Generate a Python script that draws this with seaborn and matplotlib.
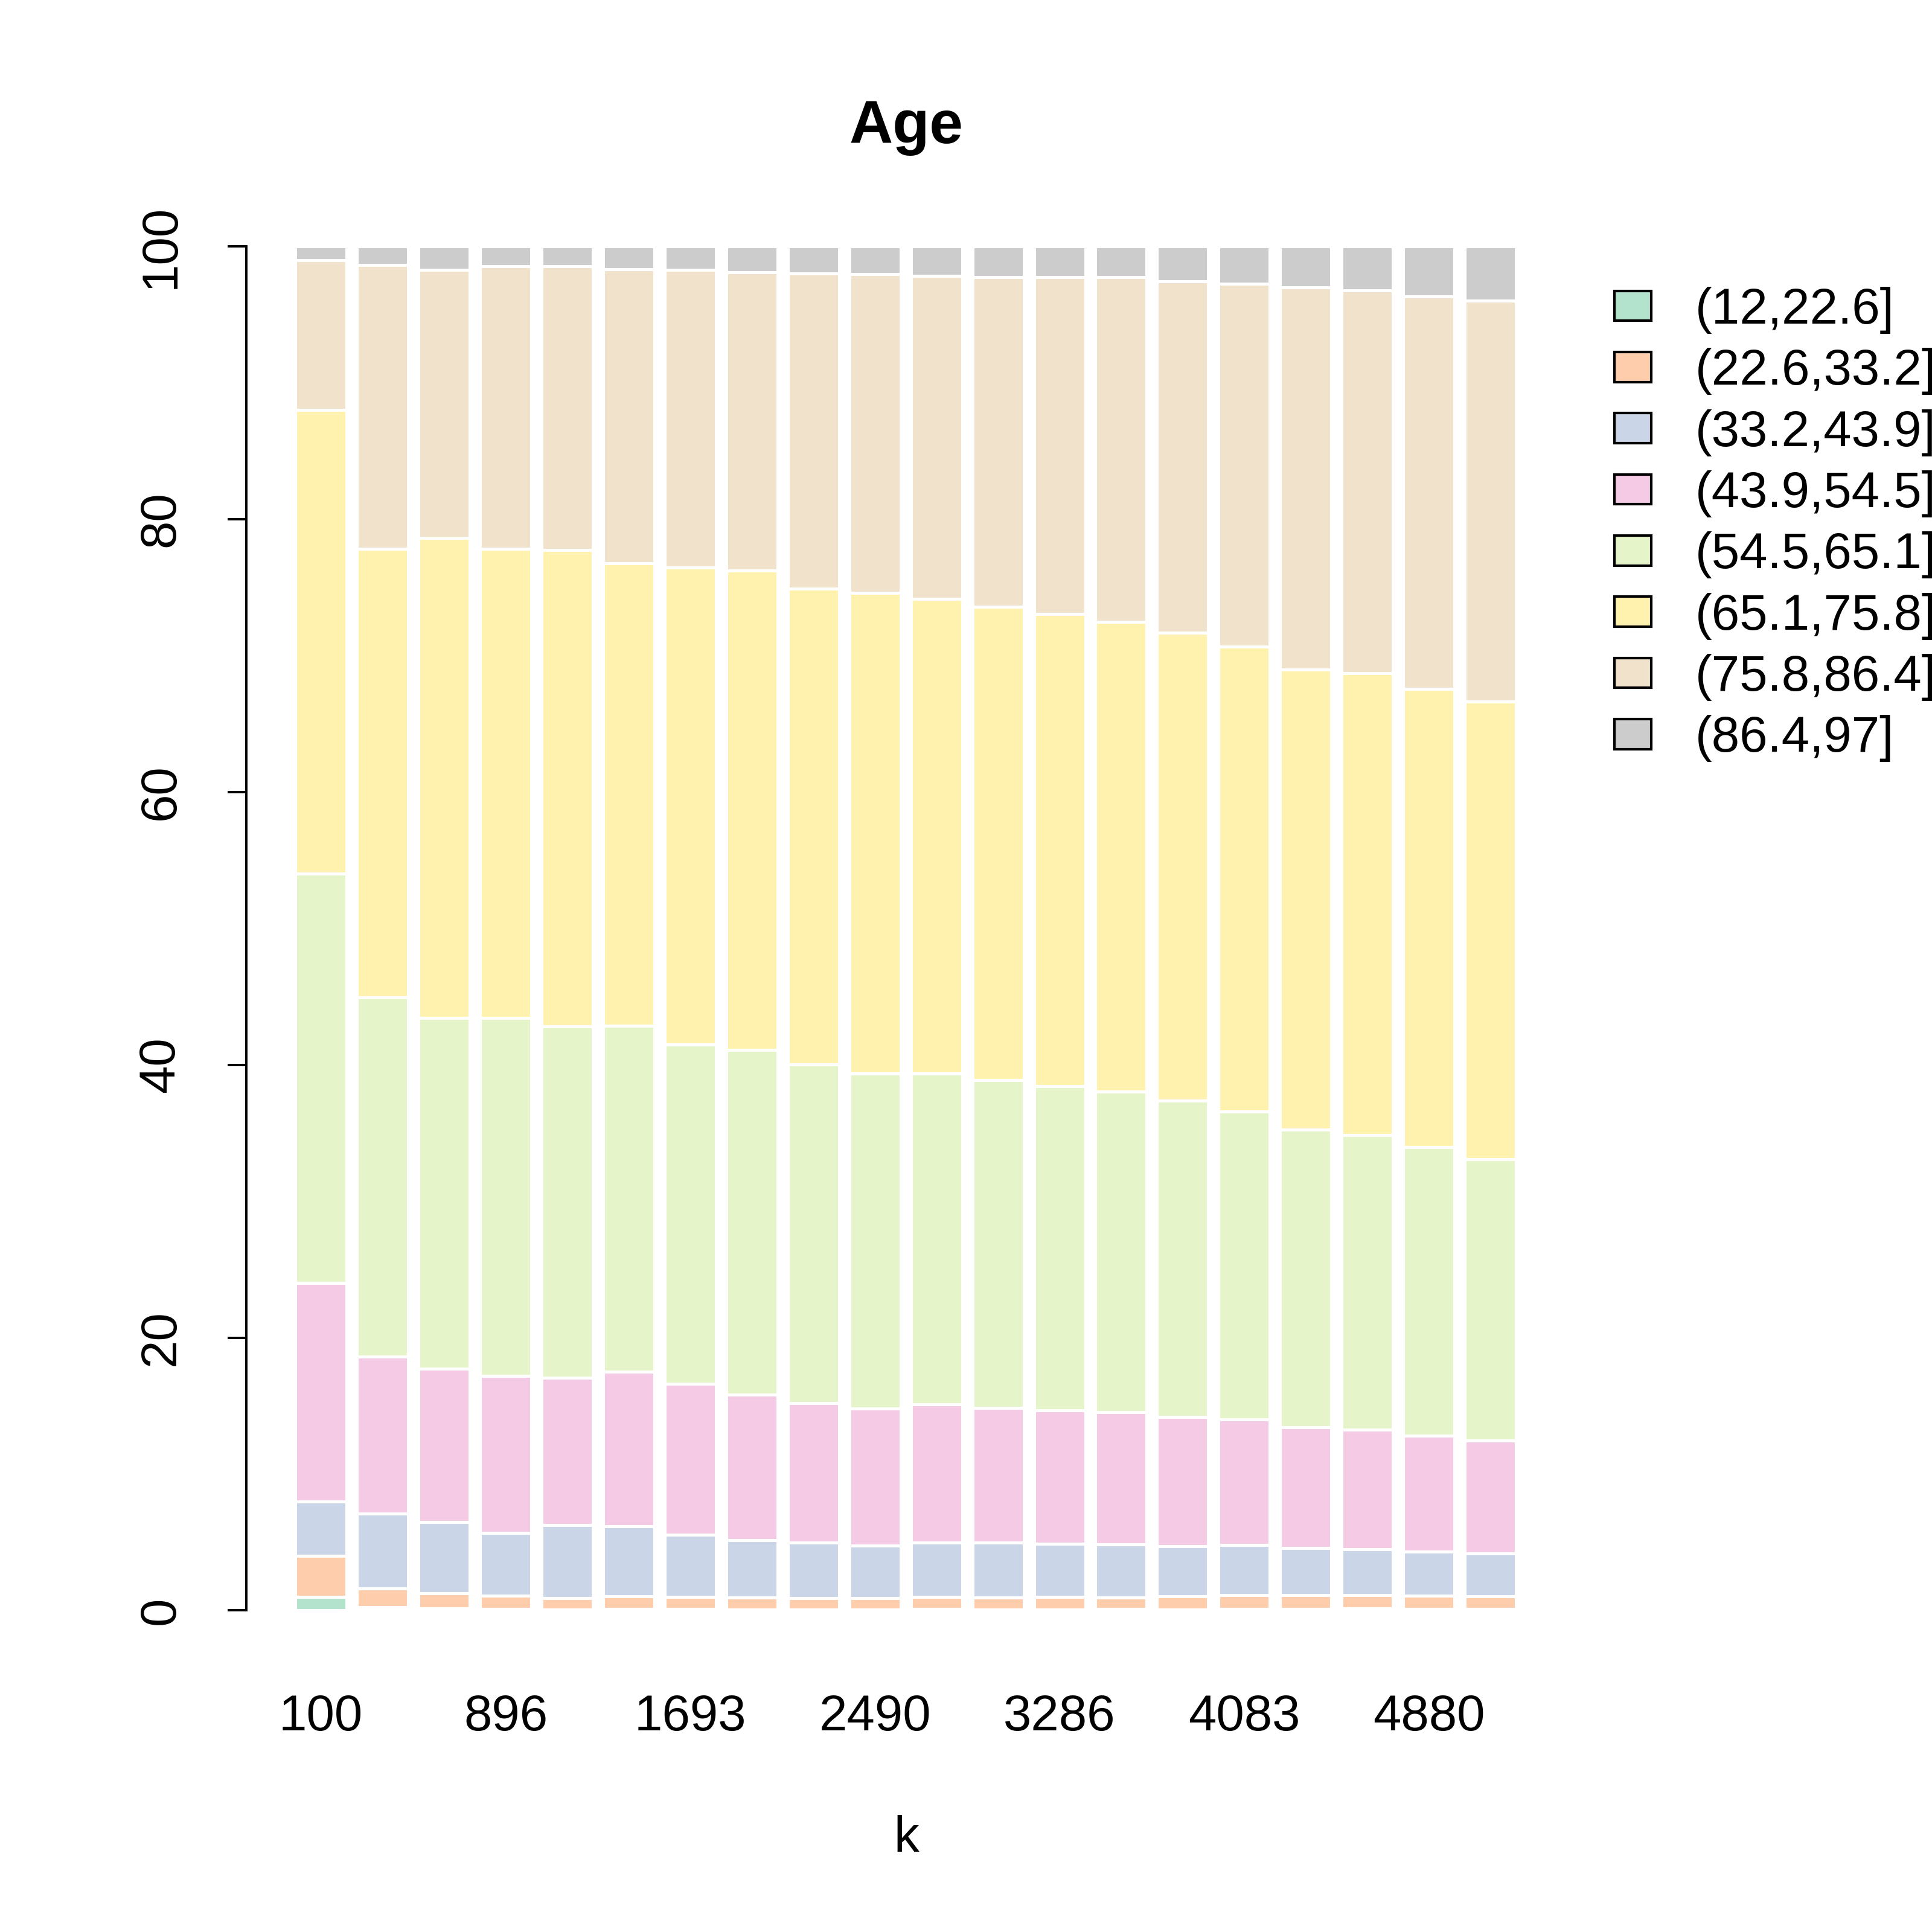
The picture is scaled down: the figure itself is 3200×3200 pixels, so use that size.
import matplotlib
matplotlib.use("Agg")
import matplotlib.pyplot as plt
import seaborn as sns
import pandas as pd
import numpy as np
from matplotlib.patches import Patch

# ---- data ----
k_values = ["100", "365", "631", "896", "1162", "1427", "1693", "1959", "2224", "2490",
            "2755", "3021", "3286", "3552", "3817", "4083", "4349", "4614", "4880", "5145"]
k_tick_labels = ["100", "896", "1693", "2490", "3286", "4083", "4880"]

age_bins = ["(12,22.6]", "(22.6,33.2]", "(33.2,43.9]", "(43.9,54.5]",
            "(54.5,65.1]", "(65.1,75.8]", "(75.8,86.4]", "(86.4,97]"]
bin_colors = ["#B3E2CD", "#FDCDAC", "#CBD5E8", "#F4CAE4",
              "#E6F5C9", "#FFF2AE", "#F1E2CC", "#CCCCCC"]

pct_12_22 = [1.00, 0.25, 0.16, 0.12, 0.07, 0.12, 0.12, 0.07, 0.07, 0.07,
             0.12, 0.07, 0.07, 0.12, 0.07, 0.12, 0.12, 0.16, 0.12, 0.12]
pct_22_33 = [3.00, 1.37, 1.11, 0.97, 0.84, 0.93, 0.88, 0.89, 0.84, 0.84,
             0.88, 0.89, 0.93, 0.84, 0.98, 1.02, 1.02, 0.98, 0.97, 0.93]
pct_33_44 = [4.00, 5.49, 5.22, 4.60, 5.36, 5.13, 4.56, 4.20, 4.08, 3.85,
             3.99, 4.03, 3.90, 3.89, 3.67, 3.67, 3.45, 3.36, 3.23, 3.14]
pct_44_55 = [16.00, 11.50, 11.24, 11.51, 10.80, 11.33, 11.06, 10.67, 10.22, 10.05,
             10.13, 9.86, 9.77, 9.69, 9.47, 9.20, 8.85, 8.76, 8.50, 8.27]
pct_55_65 = [30.00, 26.34, 25.72, 26.25, 25.76, 25.36, 24.88, 25.27, 24.83, 24.57,
             24.26, 24.04, 23.78, 23.51, 23.19, 22.58, 21.82, 21.60, 21.16, 20.63]
pct_65_76 = [34.00, 32.86, 35.16, 34.36, 34.89, 33.92, 34.94, 35.12, 34.89, 35.20,
             34.76, 34.67, 34.58, 34.41, 34.28, 34.05, 33.74, 33.84, 33.56, 33.52]
pct_76_86 = [11.00, 20.84, 19.69, 20.75, 20.84, 21.55, 21.86, 21.90, 23.10, 23.41,
             23.71, 24.20, 24.73, 25.30, 25.77, 26.62, 27.99, 28.07, 28.79, 29.41]
pct_86_97 = [1.00, 1.35, 1.70, 1.44, 1.44, 1.66, 1.70, 1.88, 1.97, 2.01,
             2.15, 2.24, 2.24, 2.24, 2.57, 2.74, 3.01, 3.23, 3.67, 3.98]

series = [pct_12_22, pct_22_33, pct_33_44, pct_44_55,
          pct_55_65, pct_65_76, pct_76_86, pct_86_97]

# ---- style ----
sns.set_style("white")
plt.rcParams["font.family"] = ["Liberation Sans", "DejaVu Sans"]
plt.rcParams["text.color"] = "black"
plt.rcParams["axes.labelcolor"] = "black"
plt.rcParams["xtick.color"] = "black"
plt.rcParams["ytick.color"] = "black"

FS = 30

fig = plt.figure(figsize=(16, 16), dpi=200)
ax = fig.add_axes([0.1276, 0.1382, 0.6824, 0.7625])

bottom = np.zeros(len(k_values))
for name, vals, col in zip(age_bins, series, bin_colors):
    df = pd.DataFrame({"k": k_values, "pct": vals})
    sns.barplot(data=df, x="k", y="pct", order=k_values, color=col,
                saturation=1, bottom=bottom.copy(), width=1 / 1.2,
                edgecolor="white", linewidth=1.8, errorbar=None, ax=ax)
    bottom += np.array(vals)

n = len(k_values)
span_lo, span_hi = -0.5 / 1.2, (n - 1) + 0.5 / 1.2
pad_x = 0.04 * (span_hi - span_lo)
ax.set_xlim(span_lo - pad_x, span_hi + pad_x)
ax.set_ylim(-4, 104)

for s in ["top", "right", "bottom"]:
    ax.spines[s].set_visible(False)
ax.spines["left"].set_bounds(0, 100)
ax.spines["left"].set_linewidth(1.4)
ax.spines["left"].set_color("black")

ax.set_yticks([0, 20, 40, 60, 80, 100])
ax.set_yticklabels(["0", "20", "40", "60", "80", "100"], rotation=90, va="center")
ax.tick_params(axis="y", length=11, width=1.4, pad=26, labelsize=FS, color="black",
               labelcolor="black", left=True)

ax.set_xticks(list(range(0, n, 3)))
ax.set_xticklabels(k_tick_labels)
ax.tick_params(axis="x", length=0, pad=17, labelsize=FS, labelcolor="black")
ax.set_xlabel("")
ax.set_ylabel("")

fig.text(0.4691, 0.934, "Age", ha="center", va="center",
         fontsize=36, fontweight="bold", color="black")
fig.text(0.4691, 0.0485, "k", ha="center", va="center", fontsize=FS, color="black")

handles = [Patch(facecolor=c, edgecolor="black", linewidth=1.5) for c in bin_colors]
leg = fig.legend(handles, age_bins, loc="upper left", bbox_to_anchor=(0.8355, 0.8516),
                 frameon=False, fontsize=FS, borderpad=0, borderaxespad=0,
                 handlelength=0.74, handleheight=0.54, handletextpad=0.875,
                 labelspacing=0.28)
for t in leg.get_texts():
    t.set_color("black")

fig.savefig("out.png", dpi=200)
